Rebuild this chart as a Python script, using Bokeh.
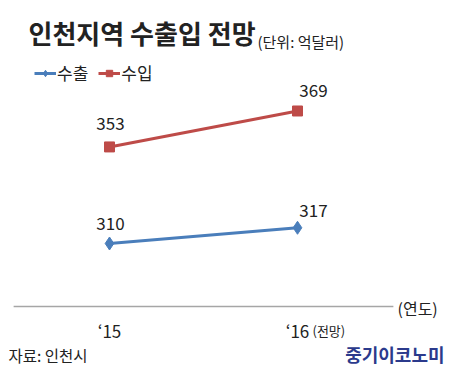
from bokeh.plotting import figure
from bokeh.models import ColumnDataSource, LabelSet, Label, Legend, LegendItem, Range1d
from bokeh.core.properties import value
from bokeh.embed import file_html
from bokeh.resources import INLINE

# ---- data ----
years = ["‘15", "‘16"]
exports = [310, 317]
imports = [353, 369]
series_names = ["수출", "수입"]
baseline = 282

title_text = "인천지역 수출입 전망"
unit_text = "(단위: 억달러)"
forecast_text = "(전망)"
axis_unit_text = "(연도)"
source_text = "자료: 인천시"
brand_text = "중기이코노미"

KR = "Noto Sans CJK KR"
BLUE = "#4A7EBB"
RED = "#BE4B48"
TXT = "#222222"

W, H = 450, 370
X0, DX = 109, 188          # px of first category, px per category
Y_REF, Y_PX, PPU = 310, 243, 2.246   # value, its px (from top), px per unit

xs = list(range(len(years)))

p = figure(width=W, height=H, output_backend="svg", toolbar_location=None, title=None,
           x_range=Range1d(-X0 / DX, (W - X0) / DX),
           y_range=Range1d(Y_REF - (H - Y_PX) / PPU, Y_REF + Y_PX / PPU),
           x_axis_location=None, y_axis_location=None,
           min_border_left=0, min_border_right=0, min_border_top=0, min_border_bottom=0)
p.outline_line_color = None
p.xgrid.visible = False
p.ygrid.visible = False
p.background_fill_color = "white"
p.border_fill_color = "white"

# category axis line and labels
p.segment(x0=[xs[0] - 0.51], x1=[xs[-1] + 0.51], y0=[baseline], y1=[baseline],
          line_color="#A6A6A6", line_width=1.5)
src_ax = ColumnDataSource(dict(x=xs, y=[baseline] * len(xs), t=years))
p.add_layout(LabelSet(x="x", y="y", text="t", source=src_ax, y_offset=-24,
                      text_align="center", text_baseline="middle",
                      text_font=value(KR), text_font_size="17px", text_color=TXT))

src_e = ColumnDataSource(dict(x=xs, y=exports, lab=[str(v) for v in exports], dx=[1, 16], dy=[20, 17]))
src_i = ColumnDataSource(dict(x=xs, y=imports, lab=[str(v) for v in imports], dx=[1, 16], dy=[23, 20]))

le = p.line("x", "y", source=src_e, line_color=BLUE, line_width=3)
se = p.scatter("x", "y", source=src_e, marker="diamond", size=13, fill_color=BLUE, line_color=BLUE)
li = p.line("x", "y", source=src_i, line_color=RED, line_width=3)
si = p.scatter("x", "y", source=src_i, marker="square", size=10, fill_color=RED, line_color=RED)

for s in (src_e, src_i):
    p.add_layout(LabelSet(x="x", y="y", text="lab", source=s, x_offset="dx", y_offset="dy",
                          text_align="center", text_baseline="middle",
                          text_font=value(KR), text_font_size="17px", text_color=TXT))

legend = Legend(items=[LegendItem(label=series_names[0], renderers=[le, se]),
                       LegendItem(label=series_names[1], renderers=[li, si])],
                orientation="horizontal", location=(34, H - 85),
                label_text_font=KR, label_text_font_size="17px", label_text_color=TXT,
                glyph_width=22, glyph_height=16, label_standoff=1, spacing=10,
                padding=0, margin=0, border_line_color=None, background_fill_alpha=0,
                label_height=18)
p.add_layout(legend)

def lab(text, px, py, size, bold=False, align="left", color=TXT):
    p.add_layout(Label(x=px, y=H - py, x_units="screen", y_units="screen", text=text,
                       text_font=KR, text_font_size=size, text_color=color,
                       text_font_style="bold" if bold else "normal",
                       text_align=align, text_baseline="middle"))

lab(title_text, 28, 32, "26px", bold=True)
lab(unit_text, 257, 41, "15px")
lab(forecast_text, 312, 330, "13px")
lab(axis_unit_text, 397, 307, "16px")
lab(source_text, 8, 354, "15.5px")
lab(brand_text, 444, 353, "18px", bold=True, align="right", color="#2B3A8C")

open("out.html", "w").write(file_html(p, INLINE))
